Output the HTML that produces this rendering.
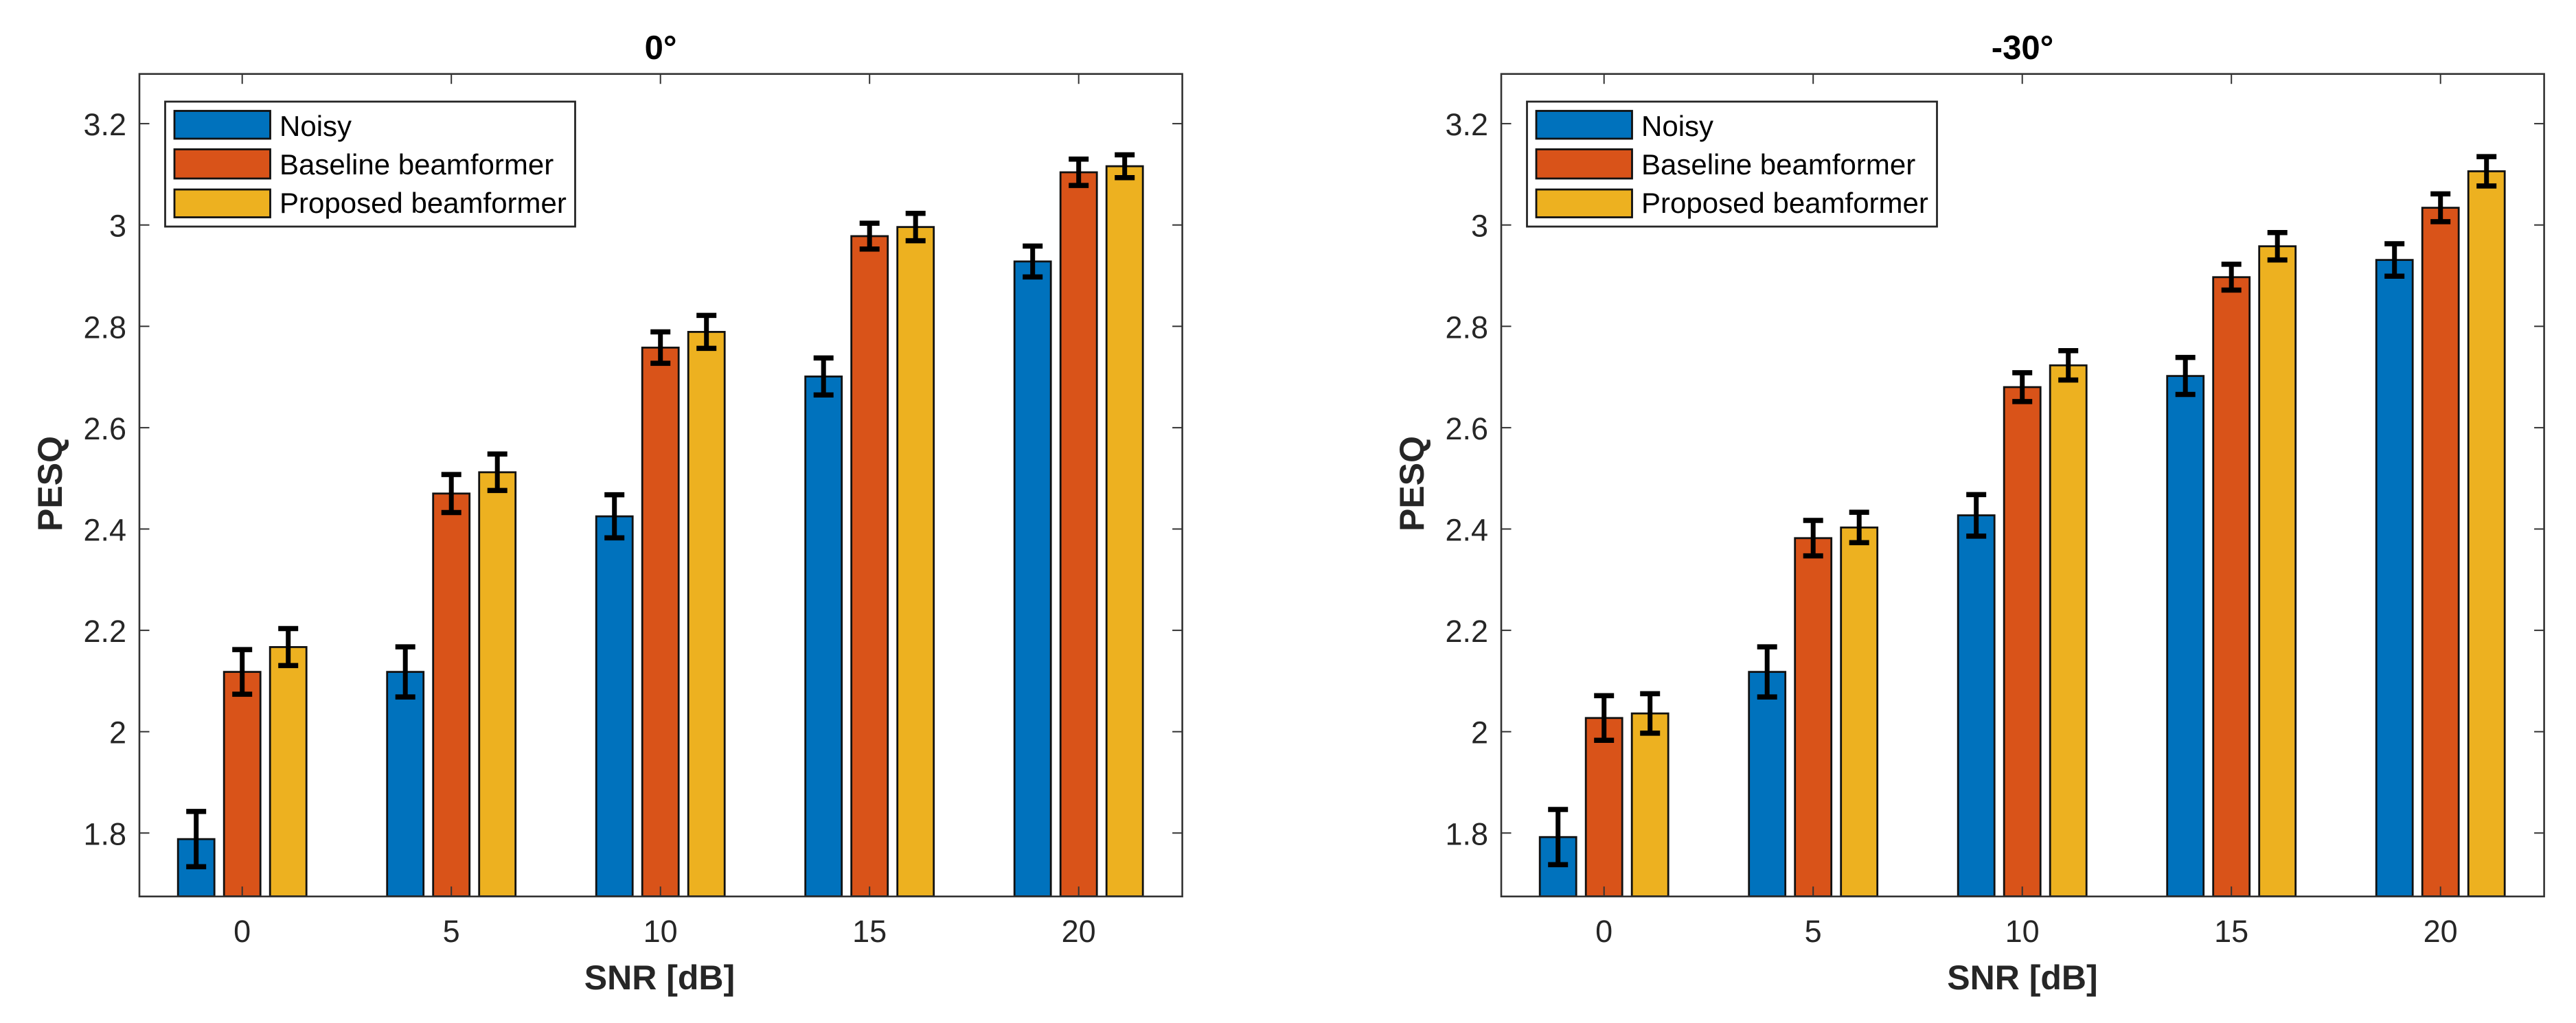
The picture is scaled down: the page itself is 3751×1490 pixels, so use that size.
<!DOCTYPE html>
<html lang="en">
<head>
<meta charset="utf-8">
<title>PESQ versus SNR</title>
<style>
html,body{margin:0;padding:0;background:#fff;width:3751px;height:1490px;overflow:hidden}
svg{display:block}
text{font-family:"Liberation Sans",Arial,sans-serif}
.tick-label{font-size:45px;fill:#262626}
.axis-title{font-size:50px;font-weight:bold;fill:#262626;text-anchor:middle}
.panel-title{font-size:49px;font-weight:bold;fill:#000;text-anchor:middle}
.legend-text{font-size:42px;fill:#000}
.frame{fill:none;stroke:#333;stroke-width:2.6}
.legend-box{fill:#fff;stroke:#262626;stroke-width:2.8}
.swatch{stroke:#111;stroke-width:2.8}
</style>
</head>
<body>
<svg id="figure" xmlns="http://www.w3.org/2000/svg" width="3751" height="1490" viewBox="0 0 3751 1490">
  <rect x="0" y="0" width="3751" height="1490" fill="#fff"/>

  <g id="panel-left">
    <g class="marks"></g>
    <rect class="frame" x="203" y="107.7" width="1518.6" height="1198"/>
    <g class="ticks"></g>
    <text class="panel-title" x="962" y="86">0°</text>
    <text class="axis-title" x="960.5" y="1441">SNR [dB]</text>
    <text class="axis-title" transform="translate(90,704.5) rotate(-90)">PESQ</text>
    <g>
      <rect class="legend-box" x="240.5" y="148" width="597" height="182"/>
      <rect class="swatch" x="254" y="161.5" width="139.5" height="40.5" fill="#0072BD"/>
      <text class="legend-text" x="407" y="198">Noisy</text>
      <rect class="swatch" x="254" y="217.5" width="139.5" height="42.5" fill="#D95319"/>
      <text class="legend-text" x="407" y="254">Baseline beamformer</text>
      <rect class="swatch" x="254" y="276" width="139.5" height="40.5" fill="#EDB120"/>
      <text class="legend-text" x="407" y="310">Proposed beamformer</text>
    </g>
  </g>

  <g id="panel-right" transform="translate(1983,0)">
    <g class="marks"></g>
    <rect class="frame" x="203" y="107.7" width="1518.6" height="1198"/>
    <g class="ticks"></g>
    <text class="panel-title" x="962" y="86">-30°</text>
    <text class="axis-title" x="962" y="1441">SNR [dB]</text>
    <text class="axis-title" transform="translate(90,704.5) rotate(-90)">PESQ</text>
    <g>
      <rect class="legend-box" x="240.5" y="148" width="597" height="182"/>
      <rect class="swatch" x="254" y="161.5" width="139.5" height="40.5" fill="#0072BD"/>
      <text class="legend-text" x="407" y="198">Noisy</text>
      <rect class="swatch" x="254" y="217.5" width="139.5" height="42.5" fill="#D95319"/>
      <text class="legend-text" x="407" y="254">Baseline beamformer</text>
      <rect class="swatch" x="254" y="276" width="139.5" height="40.5" fill="#EDB120"/>
      <text class="legend-text" x="407" y="310">Proposed beamformer</text>
    </g>
  </g>
</svg>

<script>
const categories = [0, 5, 10, 15, 20];
const xTickLabels = ['0', '5', '10', '15', '20'];
const yTickValues = [1.8, 2, 2.2, 2.4, 2.6, 2.8, 3, 3.2];
const yTickLabels = ['1.8', '2', '2.2', '2.4', '2.6', '2.8', '3', '3.2'];
const seriesNames = ['noisy', 'baseline', 'proposed'];
const seriesColors = ['#0072BD', '#D95319', '#EDB120'];

const noisy0 = [1.788, 2.118, 2.425, 2.701, 2.928];
const baseline0 = [2.118, 2.470, 2.758, 2.978, 3.104];
const proposed0 = [2.167, 2.512, 2.789, 2.996, 3.116];
const noisy0Err = [0.0545, 0.0495, 0.0425, 0.0365, 0.0305];
const baseline0Err = [0.044, 0.0375, 0.031, 0.0255, 0.026];
const proposed0Err = [0.0365, 0.036, 0.0325, 0.027, 0.0225];

const noisy30 = [1.792, 2.118, 2.427, 2.702, 2.931];
const baseline30 = [2.027, 2.382, 2.680, 2.897, 3.034];
const proposed30 = [2.036, 2.403, 2.723, 2.958, 3.106];
const noisy30Err = [0.0545, 0.0495, 0.041, 0.0365, 0.032];
const baseline30Err = [0.044, 0.035, 0.0285, 0.0255, 0.0275];
const proposed30Err = [0.039, 0.03, 0.029, 0.027, 0.029];

const SVG_NS = 'http://www.w3.org/2000/svg';
const yFloor = 1.675;
const groupOffset = 67;
const barWidth = 53;
const capHalf = 14.5;

function xScale(c) { return 352.7 + (c / 5) * 304.5; }
function yScale(v) { return 327.7 + (3 - v) * 738; }

function make(tag, parent, props) {
  const node = document.createElementNS(SVG_NS, tag);
  for (const key in props) node.setAttribute(key, props[key]);
  parent.appendChild(node);
  return node;
}

function drawMarks(panelId, allSeries, allErrors) {
  const marks = document.querySelector(panelId + ' .marks');
  allSeries.forEach(function (values, s) {
    values.forEach(function (value, i) {
      const cx = xScale(categories[i]) + (s - 1) * groupOffset;
      const top = yScale(value);
      const bar = make('rect', marks, {
        x: cx - barWidth / 2, y: top, width: barWidth, height: yScale(yFloor) - top,
        fill: seriesColors[s], stroke: '#111', 'stroke-width': 2.8
      });
      
      
    });
  });
  allSeries.forEach(function (values, s) {
    values.forEach(function (value, i) {
      const cx = xScale(categories[i]) + (s - 1) * groupOffset;
      const hi = yScale(value + allErrors[s][i]);
      const lo = yScale(value - allErrors[s][i]);
      const group = make('g', marks, { stroke: '#000', fill: 'none' });
      
      
      make('line', group, { x1: cx, x2: cx, y1: hi, y2: lo, 'stroke-width': 7 });
      make('line', group, { x1: cx - capHalf, x2: cx + capHalf, y1: hi, y2: hi, 'stroke-width': 7.5 });
      make('line', group, { x1: cx - capHalf, x2: cx + capHalf, y1: lo, y2: lo, 'stroke-width': 7.5 });
    });
  });
}

function drawTicks(panelId) {
  const ticks = document.querySelector(panelId + ' .ticks');
  const axisLeft = 203, axisRight = 1721.6, axisTop = 107.7, axisBottom = 1305.7, len = 14.5;
  categories.forEach(function (c, i) {
    const x = xScale(c);
    const tickBottom = make('line', ticks, { x1: x, x2: x, y1: axisBottom, y2: axisBottom - len, stroke: '#333', 'stroke-width': 2 });
    
    
    const tickTop = make('line', ticks, { x1: x, x2: x, y1: axisTop, y2: axisTop + len, stroke: '#333', 'stroke-width': 2 });
    
    
    const label = make('text', ticks, { class: 'tick-label', x: x, y: 1372, 'text-anchor': 'middle' });
    label.textContent = xTickLabels[i];
    
    
  });
  yTickValues.forEach(function (v, i) {
    const y = yScale(v);
    const tickLeft = make('line', ticks, { x1: axisLeft, x2: axisLeft + len, y1: y, y2: y, stroke: '#333', 'stroke-width': 2 });
    
    
    const tickRight = make('line', ticks, { x1: axisRight, x2: axisRight - len, y1: y, y2: y, stroke: '#333', 'stroke-width': 2 });
    
    
    const label = make('text', ticks, { class: 'tick-label', x: 184, y: y + 17, 'text-anchor': 'end' });
    label.textContent = yTickLabels[i];
    
    
  });
}

drawMarks('#panel-left', [noisy0, baseline0, proposed0], [noisy0Err, baseline0Err, proposed0Err]);
drawTicks('#panel-left');
drawMarks('#panel-right', [noisy30, baseline30, proposed30], [noisy30Err, baseline30Err, proposed30Err]);
drawTicks('#panel-right');
</script>
</body>
</html>
